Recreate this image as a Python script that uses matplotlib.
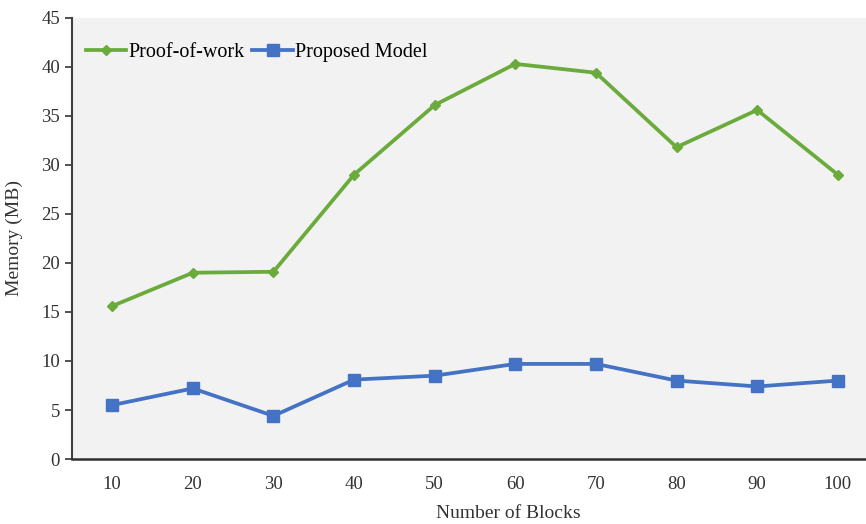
import numpy as np
import matplotlib.pyplot as plt

blocks = ['10', '20', '30', '40', '50', '60', '70', '80', '90', '100']
pow_mem = [15.6, 19.0, 19.1, 29.0, 36.1, 40.3, 39.4, 31.8, 35.6, 29.0]
proposed_mem = [5.5, 7.2, 4.4, 8.1, 8.5, 9.7, 9.7, 8.0, 7.4, 8.0]

plt.rcParams['font.family'] = ['Liberation Serif', 'DejaVu Serif']

fig = plt.figure(figsize=(8.66, 5.24), dpi=100)
ax = fig.add_axes([0.083, 0.124, 0.917, 0.842])
ax.set_facecolor('#f2f2f2')

x = np.arange(len(blocks))
ax.plot(x, pow_mem, color='#6aab3c', lw=2.7, marker='D', ms=5.5, label='Proof-of-work')
ax.plot(x, proposed_mem, color='#4472c4', lw=2.7, marker='s', ms=8, label='Proposed Model')

ax.set_xlim(-0.5, 9.35)
ax.set_ylim(0, 45)
ax.set_yticks(range(0, 46, 5))
ax.set_xticks(x)
ax.set_xticklabels(blocks)
ax.tick_params(axis='x', length=0, pad=12, labelsize=13.5, colors='#333333')
ax.tick_params(axis='y', length=5, width=1.2, labelsize=13.5, colors='#333333', direction='out')

for s in ['top', 'right']:
    ax.spines[s].set_visible(False)
ax.spines['left'].set_color('#404040')
ax.spines['left'].set_linewidth(1.5)
ax.spines['bottom'].set_color('#303030')
ax.spines['bottom'].set_linewidth(1.8)

ax.set_xlabel('Number of Blocks', fontsize=14, color='#333333')
ax.xaxis.set_label_coords(0.55, -0.105)
ax.set_ylabel('Memory (MB)', fontsize=14, color='#333333')
ax.yaxis.set_label_coords(-0.062, 0.5)

ax.legend(loc='upper left', ncol=2, frameon=False, fontsize=14.5, handlelength=2.0,
          handletextpad=0.1, columnspacing=0.4, borderaxespad=0.3, bbox_to_anchor=(0.0, 0.975))

fig.savefig('out.png', dpi=100)
